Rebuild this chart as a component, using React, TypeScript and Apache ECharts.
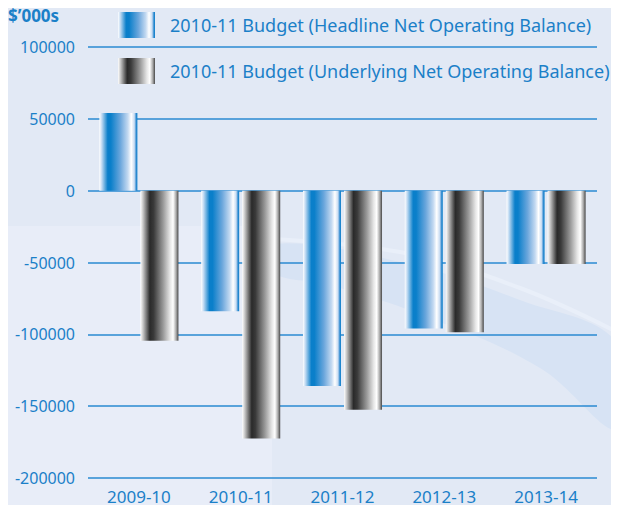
import React, { useEffect, useRef } from "react";
import * as echarts from "echarts";

const categories = ["2009-10", "2010-11", "2011-12", "2012-13", "2013-14"];
const headline = [54000, -84000, -136000, -96000, -51000];
const underlying = [-104500, -172500, -152500, -98500, -51000];
const seriesNames = [
  "2010-11 Budget (Headline Net Operating Balance)",
  "2010-11 Budget (Underlying Net Operating Balance)",
];
const unitLabel = "$\u2019000s";

const TEXT = "#1b80c8";
const FONT = "'Noto Sans', 'Open Sans', sans-serif";

const blueGrad = new echarts.graphic.LinearGradient(0, 0, 1, 0, [
  { offset: 0, color: "#ffffff" },
  { offset: 0.06, color: "#c4dcf3" },
  { offset: 0.22, color: "#0a7fca" },
  { offset: 0.3, color: "#0a7fca" },
  { offset: 0.55, color: "#6aa6dc" },
  { offset: 0.75, color: "#c3d9f1" },
  { offset: 0.84, color: "#ffffff" },
  { offset: 0.92, color: "#c9dcf2" },
  { offset: 0.97, color: "#2f8ad0" },
  { offset: 1, color: "#0a7fca" },
]);
const grayGrad = new echarts.graphic.LinearGradient(0, 0, 1, 0, [
  { offset: 0, color: "#ffffff" },
  { offset: 0.08, color: "#bdbdbd" },
  { offset: 0.25, color: "#2a2a2a" },
  { offset: 0.35, color: "#3a3a3a" },
  { offset: 0.6, color: "#9a9a9a" },
  { offset: 0.78, color: "#e6e6e6" },
  { offset: 0.86, color: "#ffffff" },
  { offset: 0.94, color: "#a8a8a8" },
  { offset: 1, color: "#474747" },
]);

export default function App() {
  const ref = useRef<HTMLDivElement>(null);
  useEffect(() => {
    if (!ref.current) return;
    const chart = echarts.init(ref.current, undefined, { renderer: "svg" });
    chart.setOption({
      animation: false,
      backgroundColor: "#e2e9f5",
      textStyle: { fontFamily: FONT },
      graphic: [
        {
          type: "rect",
          z: -100,
          silent: true,
          shape: { x: 0, y: 226, width: 272, height: 300 },
          style: { fill: "#e8edf8" },
        },
        {
          type: "polygon",
          z: -99,
          silent: true,
          shape: {
            points: [
              [272, 244],
              [400, 262],
              [520, 300],
              [619, 345],
              [619, 430],
              [540, 368],
              [430, 318],
              [330, 285],
              [272, 272],
            ],
            smooth: 0.4,
          },
          style: { fill: "#d7e3f4" },
        },
        {
          type: "polyline",
          z: -98,
          silent: true,
          shape: {
            points: [
              [250, 238],
              [400, 252],
              [520, 288],
              [619, 333],
            ],
            smooth: 0.4,
          },
          style: { stroke: "#e9eff9", lineWidth: 4, fill: "none" },
        },
        {
          type: "text",
          left: 8,
          top: 7,
          style: {
            text: unitLabel,
            fill: TEXT,
            font: `bold 17px ${FONT}`,
          },
        },
      ],
      legend: {
        orient: "vertical",
        left: 113,
        top: 7,
        itemWidth: 37,
        itemHeight: 26,
        itemGap: 20,
        icon: "rect",
        textStyle: {
          color: TEXT,
          fontSize: 18,
          fontFamily: FONT,
          padding: [0, 0, 0, 10],
        },
        data: seriesNames,
      },
      grid: { left: 88, right: 22, top: 47, bottom: 35, containLabel: false },
      xAxis: {
        type: "category",
        data: categories,
        axisLine: { show: false },
        axisTick: { show: false },
        axisLabel: { color: TEXT, fontSize: 17, margin: 10, fontFamily: FONT },
      },
      yAxis: {
        type: "value",
        min: -200000,
        max: 100000,
        interval: 50000,
        axisLine: { show: false },
        axisTick: { show: false },
        axisLabel: {
          color: TEXT,
          fontSize: 16,
          margin: 13,
          fontFamily: FONT,
          formatter: (v: number) => String(v),
        },
        splitLine: { lineStyle: { color: "#2a8ad2", width: 1.5 } },
      },
      series: [
        {
          name: seriesNames[0],
          type: "bar",
          data: headline,
          barWidth: 38,
          barGap: "8%",
          itemStyle: { color: blueGrad },
        },
        {
          name: seriesNames[1],
          type: "bar",
          data: underlying,
          barWidth: 38,
          itemStyle: { color: grayGrad },
        },
      ],
    });
    return () => chart.dispose();
  }, []);
  return <div ref={ref} style={{ width: 619, height: 513, margin: -8 }} />;
}
